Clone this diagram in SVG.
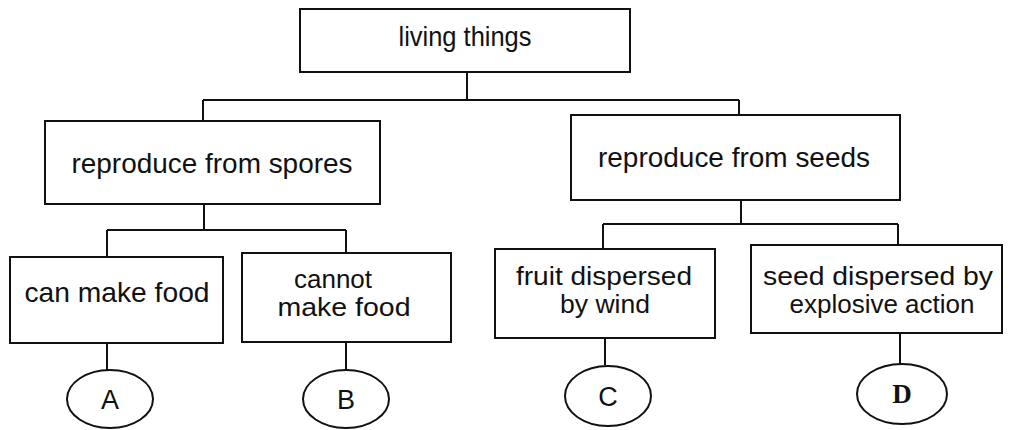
<svg xmlns="http://www.w3.org/2000/svg" width="1013" height="430" viewBox="0 0 1013 430">
<style>
.box{fill:#fff;stroke:#111;stroke-width:2}
.ell{fill:#fff;stroke:#111;stroke-width:2}
.ln{fill:none;stroke:#111;stroke-width:2}
text{font-family:"Liberation Sans",Arial,sans-serif;font-size:28px;fill:#111;text-anchor:middle}
.two{font-size:25px}
.lb{font-size:27px}
.serif{font-family:"Liberation Serif","Times New Roman",serif;font-weight:bold}
</style>
<rect width="1013" height="430" fill="#fff"/>
<g id="connectors">
<path class="ln" d="M467 72V100M203 100H739M203 100V121M739 100V115"/>
<path class="ln" d="M204 204V230M107 230H346M107 230V257M346 230V253"/>
<path class="ln" d="M741 200V224M603 224H898M603 224V249M898 224V245"/>
<path class="ln" d="M107 343V370M346 342V370M605 338V365M900 333V364"/>
</g>
<g id="living-things"><rect class="box" x="300" y="9" width="330" height="63"/><text x="465" y="46" textLength="133" lengthAdjust="spacingAndGlyphs">living things</text></g>
<g id="spores"><rect class="box" x="45" y="121" width="335" height="83"/><text x="212" y="173" textLength="281" lengthAdjust="spacingAndGlyphs">reproduce from spores</text></g>
<g id="seeds"><rect class="box" x="571" y="115" width="329" height="85"/><text x="734" y="167" textLength="272" lengthAdjust="spacingAndGlyphs">reproduce from seeds</text></g>
<g id="can-make-food"><rect class="box" x="10" y="257" width="213" height="86"/><text x="117" y="302" textLength="185" lengthAdjust="spacingAndGlyphs">can make food</text></g>
<g id="cannot-make-food"><rect class="box" x="242" y="253" width="209" height="89"/><text class="two" x="333" y="288" textLength="78" lengthAdjust="spacingAndGlyphs">cannot</text><text class="two" x="344" y="316" textLength="133" lengthAdjust="spacingAndGlyphs">make food</text></g>
<g id="fruit-wind"><rect class="box" x="495" y="249" width="220" height="89"/><text class="two" x="604" y="285" textLength="176" lengthAdjust="spacingAndGlyphs">fruit dispersed</text><text class="two" x="605" y="313" textLength="90" lengthAdjust="spacingAndGlyphs">by wind</text></g>
<g id="seed-explosive"><rect class="box" x="751" y="245" width="251" height="88"/><text class="two" x="878" y="285" textLength="230" lengthAdjust="spacingAndGlyphs">seed dispersed by</text><text class="two" x="882" y="313" textLength="185" lengthAdjust="spacingAndGlyphs">explosive action</text></g>
<g id="A"><ellipse class="ell" cx="110" cy="399" rx="43" ry="29"/><text class="lb" x="110" y="409">A</text></g>
<g id="B"><ellipse class="ell" cx="346" cy="399" rx="43" ry="29"/><text class="lb" x="346" y="409">B</text></g>
<g id="C"><ellipse class="ell" cx="608" cy="396" rx="43" ry="30"/><text class="lb" x="608" y="406">C</text></g>
<g id="D"><ellipse class="ell" cx="902" cy="394" rx="45" ry="30"/><text class="lb serif" x="902" y="403">D</text></g>
</svg>
